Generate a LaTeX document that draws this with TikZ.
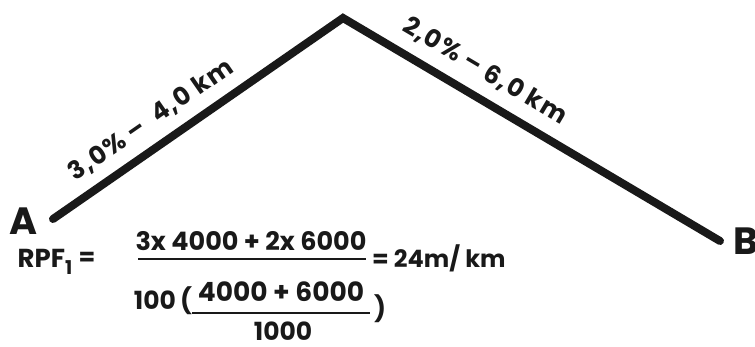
\documentclass[tikz,border=0pt]{standalone}
\usepackage{fontspec}
\setmainfont{Poppins}
\begin{document}
\begin{tikzpicture}[x=1pt,y=-1pt,
  every node/.style={inner sep=0pt, text=black!90},
  big/.style={font=\bfseries\fontsize{38}{40}\selectfont},
  lbl/.style={font=\bfseries\fontsize{25}{27}\selectfont\addfontfeature{LetterSpace=5}},
  eqA/.style={font=\bfseries\fontsize{26}{28}\selectfont},
  eqB/.style={font=\bfseries\fontsize{24}{26}\selectfont},
  eqN/.style={font=\bfseries\fontsize{25.5}{28}\selectfont},
  eqC/.style={font=\bfseries\fontsize{25}{27}\selectfont},
  eqD/.style={font=\bfseries\fontsize{26.5}{28}\selectfont},
  road/.style={line width=8pt, line cap=round, line join=miter, draw=black!90},
  bar/.style={line width=2pt, draw=black!90}]
\useasboundingbox (0,0) rectangle (755,347);
\coordinate (pA) at (53,219);
\coordinate (pk) at (343,18);
\coordinate (pB) at (720,241);
\draw[road] (pA) -- (pk) -- (pB);
\node[big] (A) at (24,221) {A};
\node[big] (B) at (746,241) {B};
\node[lbl, rotate=34.7] (s1) at (151,120) {3,0\% –\ \ 4,0 km};
\node[lbl, rotate=-30.6] (s2) at (485,71) {2,0\% – 6,0 km};
% formula
\node[eqA] (rpf) at (45,262) {RPF\raisebox{-0.45ex}{\fontsize{19}{21}\selectfont 1}};
\node[eqB] (eq1) at (87,259) {=};
\node[eqN] (num) at (251,241) {3x 4000 + 2x 6000};
\coordinate (b1l) at (138,259);
\coordinate (b1r) at (366,259);
\draw[bar] (b1l) -- (b1r);
\node[eqB, anchor=west] (res) at (372,258) {= 24m/ km};
\node[eqC] (hund) at (163,301) {100\,(};
\node[eqD] (inum) at (281,292) {4000 + 6000};
\coordinate (b2l) at (192,313);
\coordinate (b2r) at (370,313);
\draw[bar] (b2l) -- (b2r);
\node[eqC] (iden) at (283,331) {1000};
\node[eqC] (rp) at (380,309) {)};
\end{tikzpicture}
\end{document}
